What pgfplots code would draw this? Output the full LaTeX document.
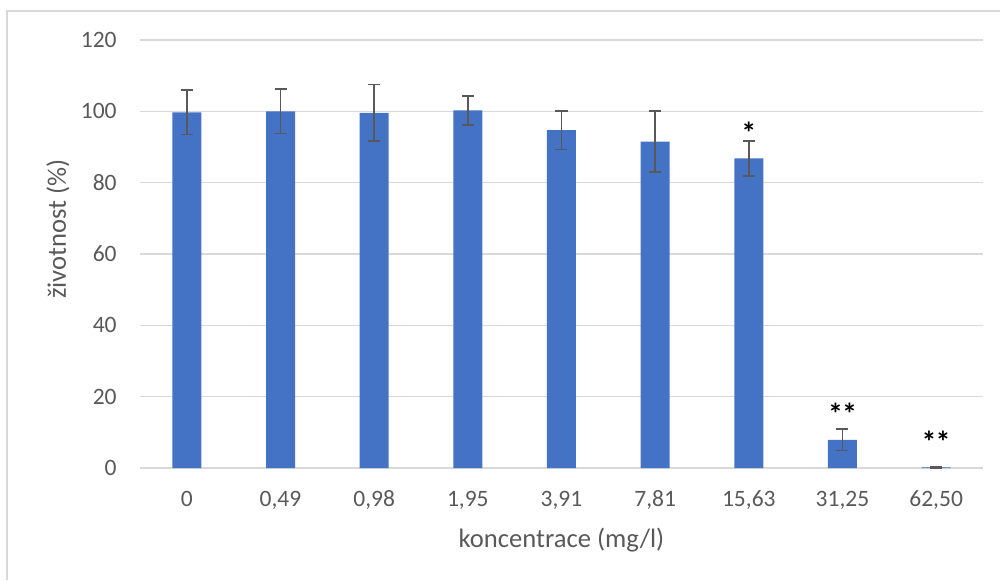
\documentclass[border=0pt]{standalone}
\usepackage{pgfplots}
\usepackage{pgfplotstable}
\pgfplotsset{compat=1.18}
\usepackage{fontspec}
\setmainfont{Carlito}

\definecolor{barblue}{HTML}{4472C4}
\definecolor{txtgray}{HTML}{595959}
\definecolor{gridgray}{HTML}{D9D9D9}
\definecolor{errgray}{HTML}{595959}

% viability (%) with standard deviation for each concentration
\pgfplotstableread{
x  y      e
0  99.7   6.2
1  100.0  6.2
2  99.6   7.9
3  100.3  4.1
4  94.7   5.4
5  91.5   8.5
6  86.8   4.9
7  7.9    3.0
8  0.2    0.15
}\viability

\begin{document}
\begin{tikzpicture}
\path[use as bounding box] (0,0) rectangle (500pt,290pt);
\draw[gridgray, line width=1pt] (3.5pt,0) -- (3.5pt,284.5pt) -- (500pt,284.5pt);
\begin{axis}[
  at={(70pt,56pt)}, anchor=south west,
  scale only axis, width=421.5pt, height=214pt,
  ybar, bar width=14.5pt,
  xmin=-0.5, xmax=8.5, ymin=0, ymax=120,
  xtick={0,...,8},
  xticklabels={{0},{0,49},{0,98},{1,95},{3,91},{7,81},{15,63},{31,25},{62,50}},
  ytick={0,20,...,120},
  ymajorgrids, grid style={gridgray, line width=0.65pt},
  axis line style={draw=none},
  major tick length=0pt,
  /pgf/number format/assume math mode=true,
  ticklabel style={font=\fontsize{11.75}{14}\selectfont, text=txtgray},
  yticklabel style={inner sep=0pt, anchor=east, xshift=-11.5pt},
  xticklabel style={inner sep=0pt, anchor=base, yshift=-19.35pt},
  xlabel={koncentrace (mg/l)},
  ylabel={životnost (\%)},
  label style={font=\fontsize{13.3}{16}\selectfont, text=txtgray},
  xlabel style={at={(axis description cs:0.5,-0.1846)}, anchor=base, inner sep=0pt},
  ylabel style={at={(axis description cs:-0.0973,0.558)}, anchor=center, inner sep=0pt},
  clip=false,
]
\addplot[fill=barblue, draw=none,
  error bars/.cd, y dir=both, y explicit,
  error bar style={line width=0.9pt, errgray},
  error mark options={rotate=90, mark size=3pt, line width=0.9pt, errgray},
] table[x=x, y=y, y error=e] {\viability};
% significance markers
\node[font=\fontsize{15}{18}\selectfont\bfseries, anchor=base, inner sep=0pt] at (axis cs:6,91.0) {*};
\node[font=\fontsize{15}{18}\selectfont\bfseries, anchor=base, inner sep=0pt] at (axis cs:7,12.2) {*\kern-0.5pt*};
\node[font=\fontsize{15}{18}\selectfont\bfseries, anchor=base, inner sep=0pt] at (axis cs:8,4.35) {*\kern-0.5pt*};
\end{axis}
\end{tikzpicture}
\end{document}
